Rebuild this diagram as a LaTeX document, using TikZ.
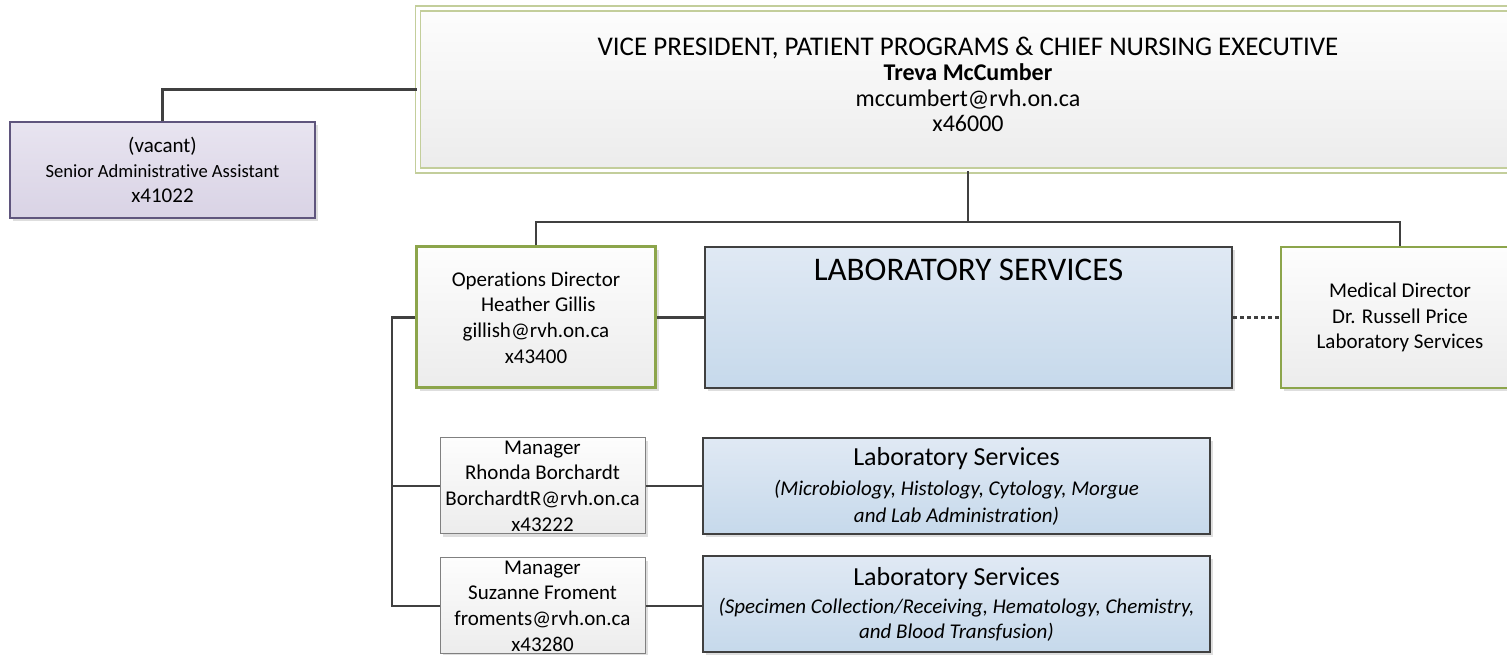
\documentclass[tikz,border=0pt]{standalone}
\usepackage{fontspec}
\setmainfont[Ligatures=NoCommon]{Carlito}
\usepackage{tikz}
\usetikzlibrary{positioning, shadows}
\usepackage{xcolor}
\definecolor{vpgreen}{RGB}{195, 206, 155}
\definecolor{leadgreen}{RGB}{140, 165, 75}
\definecolor{linegray}{RGB}{64, 64, 64}
\definecolor{boxgray}{RGB}{128, 128, 128}
\definecolor{paletop}{RGB}{253, 253, 253}
\definecolor{palebot}{RGB}{236, 236, 236}
\definecolor{labtop}{RGB}{224, 233, 244}
\definecolor{labbot}{RGB}{198, 217, 235}
\definecolor{lavtop}{RGB}{232, 228, 240}
\definecolor{lavbot}{RGB}{217, 211, 229}
\definecolor{lavline}{RGB}{95, 85, 125}

\begin{document}
\begin{tikzpicture}[x=1pt, y=1pt,
    boxshadow/.style={drop shadow={shadow xshift=3pt, shadow yshift=-3pt,
        fill=black!13, opacity=1}},
    orgbox/.style={rectangle, align=center, inner sep=0pt, boxshadow},
    grayfill/.style={top color=paletop, bottom color=palebot},
    leadbox/.style={orgbox, grayfill, draw=leadgreen, line width=3pt,
        font=\fontsize{21}{25.7}\selectfont},
    mgrbox/.style={orgbox, grayfill, draw=boxgray, line width=1pt,
        minimum width=205, minimum height=96,
        font=\fontsize{21}{25.7}\selectfont},
    labbox/.style={orgbox, top color=labtop, bottom color=labbot,
        draw=linegray, line width=2.5pt},
    unitbox/.style={labbox, minimum width=507, minimum height=96,
        font=\fontsize{21}{26.5}\selectfont},
    link/.style={draw=linegray, line width=2.5pt},
    dottedlink/.style={link, dash pattern=on 4pt off 3pt}]

    % Page frame, same size as the chart
    \useasboundingbox (0,0) rectangle (1507,655);
    \clip (0,0) rectangle (1507,655);

    % Top of the chart
    \node[orgbox, grayfill, draw=vpgreen, line width=1.6pt, double=white,
          double distance=3.5pt, minimum width=1100, minimum height=162,
          font=\fontsize{24}{25.4}\selectfont]
        (vp) at (968, 565.5)
        {{\fontsize{27}{25.4}\selectfont
          VICE PRESIDENT, PATIENT PROGRAMS \& CHIEF NURSING EXECUTIVE}\\
         \textbf{Treva McCumber}\\ mccumbert@rvh.on.ca\\ x46000\\[-15pt]};

    % Assistant
    \node[orgbox, top color=lavtop, bottom color=lavbot, draw=lavline,
          line width=1.2pt, minimum width=305, minimum height=96,
          font=\fontsize{21}{25}\selectfont]
        (assist) at (162.5, 485)
        {(vacant)\\
         {\fontsize{18.6}{25}\selectfont Senior Administrative Assistant}\\
         x41022};

    % Directors and the department
    \node[leadbox, minimum width=239, minimum height=141]
        (opsdir) at (536, 337.5)
        {Operations Director\\ \ Heather Gillis\\ gillish@rvh.on.ca\\ x43400};
    \node[labbox, minimum width=527, minimum height=141,
          label={[anchor=north, yshift=-10pt, font=\fontsize{33}{38}\selectfont]
                 north:LABORATORY SERVICES}]
        (labdept) at (968.5, 337.5) {};
    \node[leadbox, line width=2.5pt, minimum width=238, minimum height=141]
        (meddir) at (1400, 337.5)
        {Medical Director\\ Dr. Russell Price\\ Laboratory Services};

    % Managers
    \node[mgrbox] (mgrmicro) at (542.5, 169)
        {Manager\\ Rhonda Borchardt\\ BorchardtR@rvh.on.ca\\ x43222};
    \node[mgrbox] (mgrcore) at (542.5, 49)
        {Manager\\ Suzanne Froment\\ froments@rvh.on.ca\\ x43280};

    % Lab sections
    \node[unitbox] (labmicro) at (956.5, 169)
        {{\fontsize{26}{26.5}\selectfont Laboratory Services}\\[4pt]
         \textit{(Microbiology, Histology, Cytology, Morgue}\\
         \textit{and Lab Administration)}};
    \node[unitbox] (labcore) at (956.5, 51)
        {{\fontsize{26}{26.5}\selectfont Laboratory Services}\\[1.5pt]
         \textit{(Specimen Collection/Receiving, Hematology, Chemistry,}\\[-1.5pt]
         \textit{and Blood Transfusion)}};

    % Connectors
    \coordinate (bus) at (968, 433);
    \coordinate (spine) at (392, 337.5);
    \draw[link] (assist.north) |- (vp.west);
    \draw[link] (vp.south) -- (bus);
    \draw[link] (opsdir.north) |- (bus) -| (meddir.north);
    \draw[link] (opsdir.east) -- (labdept.west);
    \draw[dottedlink] (labdept.east) -- (meddir.west);
    \draw[link] (opsdir.west) -- (spine) |- (mgrcore.west);
    \draw[link] (spine |- mgrmicro.west) -- (mgrmicro.west);
    \draw[link] (mgrmicro.east) -- (labmicro.west |- mgrmicro.east);
    \draw[link] (mgrcore.east) -- (labcore.west |- mgrcore.east);

\end{tikzpicture}
\end{document}
